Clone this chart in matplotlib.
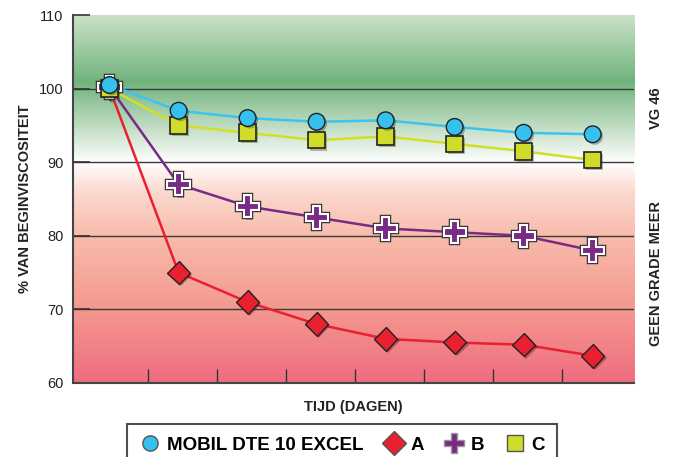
import numpy as np
import matplotlib
matplotlib.use("Agg")
import matplotlib.pyplot as plt
import matplotlib.patheffects as pe
from matplotlib.colors import LinearSegmentedColormap
from matplotlib.lines import Line2D

matplotlib.rcParams["font.family"] = ["Liberation Sans", "DejaVu Sans"]

# data (days, % of initial viscosity)
days = [0, 1, 2, 3, 4, 5, 6, 7]
mobil = [100.5, 97.0, 96.0, 95.5, 95.7, 94.8, 94.0, 93.8]
oil_a = [100.0, 75.0, 71.0, 68.0, 66.0, 65.5, 65.2, 63.7]
oil_b = [100.2, 87.0, 84.0, 82.5, 81.0, 80.5, 80.0, 78.0]
oil_c = [100.0, 95.0, 94.0, 93.0, 93.5, 92.5, 91.5, 90.3]
yticks = [60, 70, 80, 90, 100, 110]

fig = plt.figure(figsize=(6.76, 4.57), dpi=100)
ax = fig.add_axes([0.108, 0.162, 0.83, 0.805])

# background: green band on top, white at 90, pink/red towards 60
stops = [(60, "#ef6d80"), (70, "#f4988f"), (80, "#f8bcac"), (86, "#fbd9cf"),
         (90, "#ffffff"), (92, "#e6f1e6"), (101, "#70b37c"), (110, "#c9e2c9")]
cmap = LinearSegmentedColormap.from_list(
    "bg", [((v - 60) / 50.0, c) for v, c in stops])
grad = np.linspace(0, 1, 500).reshape(-1, 1)
ax.imshow(grad, cmap=cmap, origin="lower", aspect="auto",
          extent=(-0.53, 7.6, 60, 110), zorder=0)

for g in [70, 80, 90, 100]:
    ax.axhline(g, color="#3a3a3a", lw=1.0, zorder=1)

shadow = [pe.SimplePatchShadow(offset=(1.5, -1.5), alpha=0.35), pe.Normal()]

series = [
    (oil_a, "#e8202f", "#e8202f", "D", 12, "#222222", 1.0),
    (oil_b, "#7a2a85", "#7a2a85", "P", 16, "#ffffff", 1.5),
    (oil_c, "#d2df26", "#cfdc2a", "s", 12, "#222222", 1.2),
    (mobil, "#3cc4ef", "#35c0ee", "o", 12, "#222222", 1.0),
]
for i, (vals, lc, mc, mk, ms, mec, mew) in enumerate(series):
    ax.plot(days, vals, color=lc, lw=1.8, zorder=2 + i)
    ln, = ax.plot(days, vals, ls="none", marker=mk, ms=ms, mfc=mc, mec=mec,
                  mew=mew, zorder=6 + i)
    if mk == "P":
        ln.set_path_effects([pe.SimplePatchShadow(offset=(1.5, -1.5), alpha=0.35),
                             pe.Stroke(linewidth=3.2, foreground="#333333"), pe.Normal()])
    else:
        ln.set_path_effects(shadow)

ax.set_xlim(-0.53, 7.6)
ax.set_ylim(60, 110)
ax.set_xticks(np.arange(0.55, 7.5, 1.0))
ax.set_xticklabels([])
ax.set_yticks(yticks)
ax.tick_params(axis="x", direction="in", length=10, width=1.0, color="#333333")
ax.tick_params(axis="y", direction="in", length=12, width=1.2, color="#333333",
               labelsize=10.5, pad=7, labelcolor="#222222")
for s in ["top", "right"]:
    ax.spines[s].set_visible(False)
for s in ["left", "bottom"]:
    ax.spines[s].set_color("#444444")
    ax.spines[s].set_linewidth(1.5)

ax.set_ylabel("% VAN BEGINVISCOSITEIT", fontsize=10.5, fontweight="bold",
              color="#222222", labelpad=5)
ax.set_xlabel("TIJD (DAGEN)", fontsize=10.5, fontweight="bold", color="#222222",
              labelpad=9)

fig.text(0.971, 1 - 108 / 457, "VG 46", rotation=90, ha="center", va="center",
         fontsize=10.5, fontweight="bold", color="#222222")
fig.text(0.971, 1 - 274 / 457, "GEEN GRADE MEER", rotation=90, ha="center",
         va="center", fontsize=10.5, fontweight="bold", color="#222222")

handles = [
    Line2D([], [], ls="none", marker="o", ms=11, mfc="#35c0ee", mec="#555555"),
    Line2D([], [], ls="none", marker="D", ms=12, mfc="#e8202f", mec="#555555"),
    Line2D([], [], ls="none", marker="P", ms=15, mfc="#7a2a85", mec="#999999"),
    Line2D([], [], ls="none", marker="s", ms=11, mfc="#cfdc2a", mec="#555555"),
]
labels = ["MOBIL DTE 10 EXCEL", "A", "B", "C"]
leg = fig.legend(handles, labels, loc="upper center", bbox_to_anchor=(0.506, 1 - 415 / 457),
                 ncol=4, frameon=True, fancybox=False, edgecolor="#222222",
                 handletextpad=0.3, columnspacing=1.0, handlelength=1.2,
                 borderpad=0.65, prop={"weight": "bold", "size": 13.5})
leg.get_frame().set_linewidth(1.5)

fig.savefig("out.png", dpi=100)
